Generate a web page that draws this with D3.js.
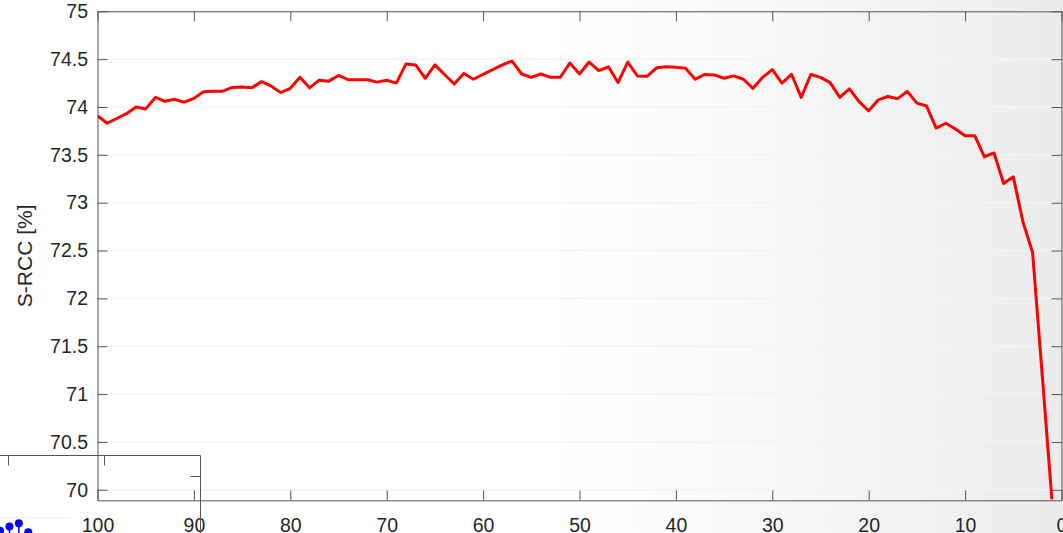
<!DOCTYPE html>
<html>
<head>
<meta charset="utf-8">
<script src="https://cdn.jsdelivr.net/npm/d3@7/dist/d3.min.js"></script>
<style>
  html, body { margin: 0; padding: 0; background: #fff; }
  svg { display: block; }
  text { font-family: "Liberation Sans", Arial, Helvetica, sans-serif; fill: #262626; }
</style>
</head>
<body>
<svg id="chart" width="1063" height="533"></svg>
<script>
// Percentage of retained samples (x) and the resulting S-RCC score (y)
const retained = [100, 99, 98, 97, 96, 95, 94, 93, 92, 91,
                  90, 89, 88, 87, 86, 85, 84, 83, 82, 81,
                  80, 79, 78, 77, 76, 75, 74, 73, 72, 71,
                  70, 69, 68, 67, 66, 65, 64, 63, 62, 61,
                  60, 59, 58, 57, 56, 55, 54, 53, 52, 51,
                  50, 49, 48, 47, 46, 45, 44, 43, 42, 41,
                  40, 39, 38, 37, 36, 35, 34, 33, 32, 31,
                  30, 29, 28, 27, 26, 25, 24, 23, 22, 21,
                  20, 19, 18, 17, 16, 15, 14, 13, 12, 11,
                  10, 9, 8, 7, 6, 5, 4, 3, 2, 1];

const srcc = [73.91, 73.83, 73.88, 73.93, 74.00, 73.98, 74.10, 74.06, 74.08, 74.05,
              74.09, 74.16, 74.165, 74.165, 74.205, 74.21, 74.20, 74.265, 74.22, 74.15,
              74.195, 74.31, 74.20, 74.28, 74.27, 74.33, 74.285, 74.285, 74.285, 74.26,
              74.28, 74.25, 74.45, 74.44, 74.30, 74.44, 74.34, 74.24, 74.35, 74.29,
              74.34, 74.39, 74.44, 74.48, 74.345, 74.31, 74.345, 74.31, 74.31, 74.46,
              74.345, 74.47, 74.38, 74.42, 74.255, 74.47, 74.325, 74.32, 74.41, 74.42,
              74.415, 74.405, 74.29, 74.34, 74.335, 74.30, 74.325, 74.29, 74.195, 74.31,
              74.39, 74.25, 74.34, 74.10, 74.34, 74.31, 74.255, 74.10, 74.19, 74.056,
              73.96, 74.075, 74.11, 74.087, 74.163, 74.04, 74.01, 73.78, 73.83, 73.77,
              73.70, 73.70, 73.48, 73.52, 73.20, 73.27, 72.80, 72.48, 71.20, 69.90];

const xTicks = [100, 90, 80, 70, 60, 50, 40, 30, 20, 10, 0];
const yTicks = [70, 70.5, 71, 71.5, 72, 72.5, 73, 73.5, 74, 74.5, 75];
const yLabel = "S-RCC [%]";

// Corner of a neighbouring panel that overlaps this figure (stem markers)
const stemIndex = [0, 1, 2, 3];
const stemValue = [0.15, 0.6, 0.95, 0.0];

const W = 1063, H = 533;
const plot = { left: 97.5, right: 1061.5, top: 11.3, bottom: 500.3 };
const tickLen = 10;
const axisColor = "#555";

const svg = d3.select("#chart");

// Soft horizontal shading of the page towards the right edge
const defs = svg.append("defs");
const grad = defs.append("linearGradient").attr("id", "bgShade")
  .attr("x1", "0").attr("x2", "1").attr("y1", "0").attr("y2", "0");
[[0, "#ffffff"], [0.52, "#ffffff"], [0.7, "#f9f9f9"], [0.85, "#f2f2f2"], [1, "#ebebeb"]]
  .forEach(([o, c]) => grad.append("stop").attr("offset", o).attr("stop-color", c));
svg.append("rect").attr("width", W).attr("height", H).attr("fill", "url(#bgShade)");

const x = d3.scaleLinear().domain([100, 0]).range([plot.left, plot.right]);
const y = d3.scaleLinear().domain([69.89, 75]).range([plot.bottom, plot.top]);

// Horizontal grid
svg.append("g")
  .selectAll("line").data(yTicks).join("line")
  .attr("x1", plot.left).attr("x2", plot.right)
  .attr("y1", d => y(d)).attr("y2", d => y(d))
  .attr("stroke", "#f3f3f3").attr("stroke-width", 1.5);

// Data line
defs.append("clipPath").attr("id", "plotClip")
  .append("rect").attr("x", plot.left).attr("y", plot.top)
  .attr("width", plot.right - plot.left).attr("height", plot.bottom - plot.top);

const line = d3.line().x((d, i) => x(retained[i])).y(d => y(d));
svg.append("path")
  .datum(srcc)
  .attr("clip-path", "url(#plotClip)")
  .attr("d", line)
  .attr("fill", "none")
  .attr("stroke", "#ff0000")
  .attr("stroke-width", 3)
  .attr("stroke-linejoin", "round");

// Axes: box with inward ticks on all four sides
function styleAxis(g) {
  g.selectAll("path.domain").attr("stroke", axisColor).attr("stroke-width", 1);
  g.selectAll(".tick line").attr("stroke", axisColor).attr("stroke-width", 1);
  g.selectAll("text").attr("font-size", "19.5px").attr("fill", "#262626");
  g.attr("font-family", null);
}

const fmt = d => String(d);

svg.append("g")
  .attr("transform", `translate(0,${plot.bottom})`)
  .call(d3.axisBottom(x).tickValues(xTicks).tickFormat(fmt)
        .tickSizeInner(-tickLen).tickSizeOuter(0).tickPadding(17.5))
  .call(styleAxis);

svg.append("g")
  .attr("transform", `translate(0,${plot.top})`)
  .call(d3.axisTop(x).tickValues(xTicks).tickFormat("")
        .tickSizeInner(-tickLen).tickSizeOuter(0))
  .call(styleAxis);

svg.append("g")
  .attr("transform", `translate(${plot.left},0)`)
  .call(d3.axisLeft(y).tickValues(yTicks).tickFormat(fmt)
        .tickSizeInner(-tickLen).tickSizeOuter(0).tickPadding(9.5))
  .call(styleAxis);

svg.append("g")
  .attr("transform", `translate(${plot.right},0)`)
  .call(d3.axisRight(y).tickValues(yTicks).tickFormat("")
        .tickSizeInner(-tickLen).tickSizeOuter(0))
  .call(styleAxis);

// Y axis title
svg.append("text")
  .attr("transform", `translate(24,${(plot.top + plot.bottom) / 2}) rotate(-90)`)
  .attr("text-anchor", "middle")
  .attr("dominant-baseline", "central")
  .attr("font-size", "21px")
  .text(yLabel);

// Overlapping neighbouring panel corner
const inset = svg.append("g").attr("stroke", axisColor).attr("stroke-width", 1).attr("fill", "none");
inset.append("line").attr("x1", 0).attr("x2", 200.5).attr("y1", 455.5).attr("y2", 455.5);
inset.append("line").attr("x1", 200.5).attr("x2", 200.5).attr("y1", 455.5).attr("y2", H);
inset.append("line").attr("x1", 8.5).attr("x2", 8.5).attr("y1", 455.5).attr("y2", 465.5);
inset.append("line").attr("x1", 104.5).attr("x2", 104.5).attr("y1", 455.5).attr("y2", 465.5);
inset.append("line").attr("x1", 190.5).attr("x2", 200.5).attr("y1", 476.5).attr("y2", 476.5);
svg.append("line").attr("x1", 0).attr("x2", 70).attr("y1", 517.5).attr("y2", 517.5)
  .attr("stroke", "#ececec").attr("stroke-width", 1);

const sx = d3.scaleLinear().domain([0, 3]).range([0, 28.3]);
const sy = d3.scaleLinear().domain([0, 1]).range([532.3, 522.7]);
const stems = svg.append("g");
stems.selectAll("line").data(stemValue).join("line")
  .attr("x1", (d, i) => sx(stemIndex[i])).attr("x2", (d, i) => sx(stemIndex[i]))
  .attr("y1", d => sy(d)).attr("y2", H)
  .attr("stroke", "#0000ff").attr("stroke-width", 1.5);
stems.selectAll("circle").data(stemValue).join("circle")
  .attr("cx", (d, i) => sx(stemIndex[i])).attr("cy", d => sy(d))
  .attr("r", 4).attr("fill", "#0000ff");
</script>
</body>
</html>
